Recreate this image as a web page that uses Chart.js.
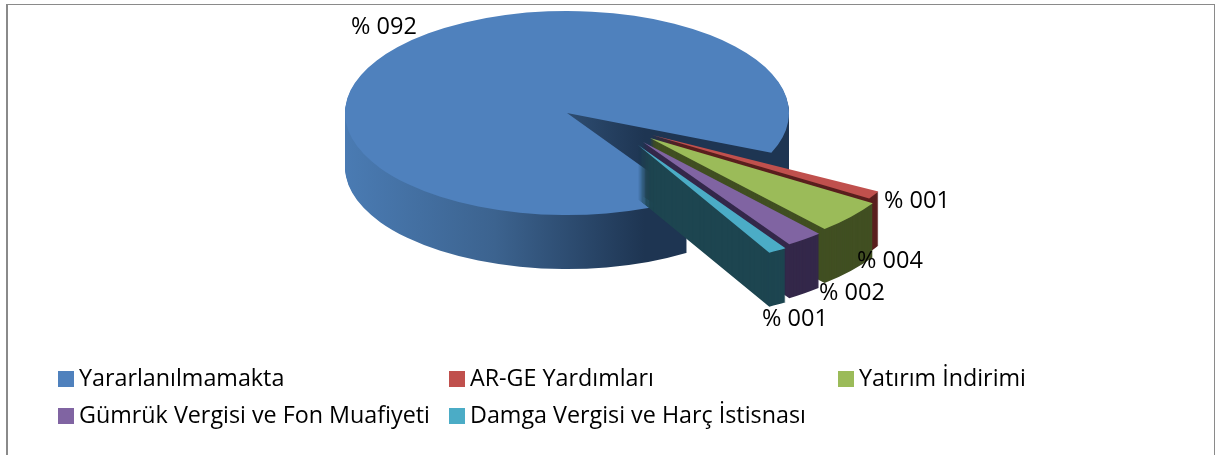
<!DOCTYPE html>
<html><head><meta charset="utf-8">
<script src="https://cdn.jsdelivr.net/npm/chart.js@4/dist/chart.umd.min.js"></script>
<style>
html,body{margin:0;padding:0;background:#fff;overflow:hidden}
#wrap{position:relative;width:1217px;height:455px;overflow:hidden}
#frame{position:absolute;left:6px;top:4px;width:1209px;height:470px;border:2px solid #8a8a8a;border-width:1.5px 1.5px 0 2px;box-sizing:border-box}
canvas{position:absolute;left:0;top:0}
</style></head><body>
<div id="wrap"><div id="frame"></div><canvas id="c" width="1217" height="455"></canvas></div>
<script>
const categories = ['Yararlanılmamakta','AR-GE Yardımları','Yatırım İndirimi','Gümrük Vergisi ve Fon Muafiyeti','Damga Vergisi ve Harç İstisnası'];
const values = [92,1,4,2,1];
const topColors = ['#4f81bd','#c0504d','#9bbb59','#8064a2','#4bacc6'];
const sideColors = ['#1e3552','#5a1f1e','#414f22','#34284a','#1d4550'];

const FONT = '"Open Sans", Lato, sans-serif';
const view = {cx:567, cy:113, rx:222, ry:102, depth:54, bigTrim:7.2*Math.PI/180, wedgeStretch:1.12};
const shiftX = [0,85,83,76,71];
const shiftY = [0,22,25,29,32];
const grow = [1,1.16,1.19,1.2,1.21];
const labelPos = [[384,27],[917,201],[890,261],[852,293],[795,319]];
const legendCols = [58,449,838];
const legendRows = [380,417];

function place(ctx, arc, i){
  const base = arc.outerRadius;
  ctx.translate(view.cx+shiftX[i], view.cy+shiftY[i]);
  ctx.scale(view.rx/base*grow[i], view.ry/base*grow[i]);
  ctx.translate(-arc.x, -arc.y);
}
function paint(ctx, arc, fill){
  const saved = arc.options;
  arc.options = Object.create(saved, {backgroundColor:{value:fill}, borderWidth:{value:0}});
  arc.draw(ctx);
  arc.options = saved;
}
const pie3d = {
  id:'pie3d',
  beforeDatasetsDraw(chart){
    const ctx = chart.ctx, arcs = chart.getDatasetMeta(0).data;
    // middle of the small wedges as a group, from the data-driven arcs
    const pivot = (arcs[1].startAngle + arcs[arcs.length-1].endAngle)/2;
    arcs.forEach((arc,i)=>{
      const s0 = arc.startAngle, e0 = arc.endAngle;
      if(i===0){ arc.startAngle = s0-0.03; arc.endAngle = e0-view.bigTrim; }
      else {
        arc.startAngle = pivot+(s0-pivot)*view.wedgeStretch;
        arc.endAngle = pivot+(e0-pivot)*view.wedgeStretch;
      }
      let side = sideColors[i];
      if(i===0){
        const g = ctx.createLinearGradient(arc.x-arc.outerRadius,0,arc.x+arc.outerRadius*0.35,0);
        g.addColorStop(0,'#4a7bb3'); g.addColorStop(0.5,'#3c638f'); g.addColorStop(1,sideColors[0]);
        side = g;
      }
      for(let d=view.depth;d>=1;d--){
        ctx.save(); ctx.translate(0,d); place(ctx,arc,i); paint(ctx,arc,side); ctx.restore();
      }
      ctx.save(); place(ctx,arc,i); paint(ctx,arc,topColors[i]); ctx.restore();
      arc.startAngle = s0; arc.endAngle = e0;
    });
    return false;
  },
  afterDraw(chart){
    const ctx = chart.ctx;
    ctx.save();
    ctx.fillStyle = '#000'; ctx.textBaseline = 'middle'; ctx.textAlign = 'center';
    ctx.font = '23.5px '+FONT;
    values.forEach((v,i)=>{
      ctx.fillText('% '+String(v).padStart(3,'0'), labelPos[i][0], labelPos[i][1]);
    });
    ctx.textAlign = 'left';
    ctx.font = '23.3px '+FONT;
    categories.forEach((t,i)=>{
      const x = legendCols[i%3], y = legendRows[Math.floor(i/3)];
      ctx.fillStyle = topColors[i];
      ctx.fillRect(x,y-9,16,16);
      ctx.fillStyle = '#000';
      ctx.fillText(t,x+21,y-1);
    });
    ctx.restore();
  }
};
new Chart(document.getElementById('c'),{
  type:'pie',
  data:{labels:categories,datasets:[{data:values,backgroundColor:topColors,borderWidth:0}]},
  options:{responsive:false,animation:false,rotation:149,
    plugins:{legend:{display:false},tooltip:{enabled:false}}},
  plugins:[pie3d]
});
</script></body></html>
